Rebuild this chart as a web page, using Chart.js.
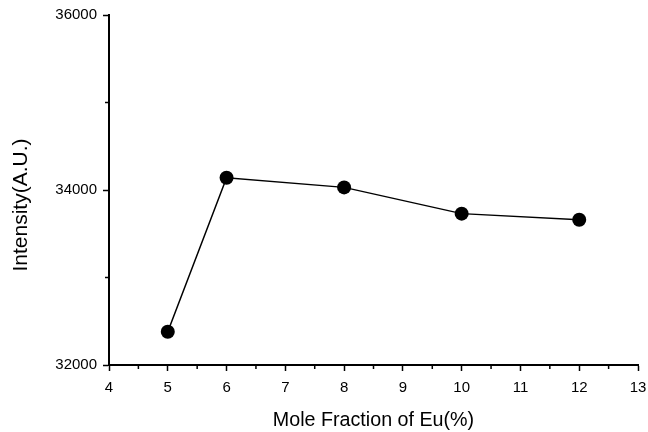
<!DOCTYPE html>
<html>
<head>
<meta charset="utf-8">
<script src="https://cdn.jsdelivr.net/npm/chart.js@4"></script>
<style>
  html, body { margin: 0; padding: 0; background: #fff; }
  #wrap { width: 648px; height: 432px; }
</style>
</head>
<body>
<div id="wrap"><canvas id="chart"></canvas></div>
<script>
// data
const moleFraction = [5, 6, 8, 10, 12];
const intensity = [32380, 34140, 34030, 33730, 33660];
const yLabelled = [32000, 34000, 36000];
const xLabelled = [4, 5, 6, 7, 8, 9, 10, 11, 12, 13];
const yTitle = 'Intensity(A.U.)';

const FONT = "'Liberation Sans', Arial, sans-serif";

// short minor ticks + the y title (sits a bit below the axis middle in the original)
const extras = {
  id: 'extras',
  afterDraw(chart) {
    const ctx = chart.ctx;
    const x = chart.scales.x, y = chart.scales.y;
    ctx.save();
    ctx.strokeStyle = '#000';
    ctx.lineWidth = 1.5;
    ctx.beginPath();
    y.ticks.forEach(t => {
      if (yLabelled.includes(t.value)) return;
      const py = y.getPixelForValue(t.value);
      ctx.moveTo(x.left - 4, py);
      ctx.lineTo(x.left, py);
    });
    x.ticks.forEach(t => {
      if (xLabelled.includes(t.value)) return;
      const px = x.getPixelForValue(t.value);
      ctx.moveTo(px, y.bottom);
      ctx.lineTo(px, y.bottom + 4);
    });
    ctx.stroke();

    const area = chart.chartArea;
    ctx.translate(21, (area.top + area.bottom) / 2 + 15);
    ctx.rotate(-Math.PI / 2);
    ctx.fillStyle = '#000';
    ctx.font = '21px ' + FONT;
    ctx.textAlign = 'center';
    ctx.textBaseline = 'middle';
    ctx.fillText(yTitle, 0, 0);
    ctx.restore();
  }
};

new Chart(document.getElementById('chart'), {
  type: 'line',
  data: {
    datasets: [{
      data: moleFraction.map((m, i) => ({ x: m, y: intensity[i] })),
      borderColor: '#000',
      backgroundColor: '#000',
      borderWidth: 1.5,
      pointRadius: 7,
      pointBorderWidth: 0,
      pointBackgroundColor: '#000',
      tension: 0
    }]
  },
  options: {
    responsive: true,
    maintainAspectRatio: false,
    animation: false,
    layout: { padding: { top: 15, right: 10, left: 0, bottom: 0 } },
    plugins: { legend: { display: false }, tooltip: { enabled: false } },
    scales: {
      x: {
        type: 'linear',
        min: 4, max: 13,
        afterFit(s) { s.height = 67; s.paddingLeft = 0; s.paddingRight = 0; },
        border: { color: '#000', width: 2 },
        grid: {
          drawOnChartArea: false,
          tickLength: 6,
          tickWidth: 1.5,
          tickColor: c => xLabelled.includes(c.tick && c.tick.value) ? '#000' : 'rgba(0,0,0,0)'
        },
        ticks: {
          stepSize: 0.5,
          color: '#000',
          padding: 8,
          maxRotation: 0,
          autoSkip: false,
          font: { family: FONT, size: 15 },
          callback: v => Number.isInteger(v) ? String(v) : ''
        },
        title: {
          display: true,
          text: 'Mole Fraction of Eu(%)',
          color: '#000',
          font: { family: FONT, size: 19.7 },
          padding: { top: 4, bottom: 0 }
        }
      },
      y: {
        type: 'linear',
        min: 32000, max: 36000,
        afterFit(s) { s.width = 109; s.paddingTop = 0; s.paddingBottom = 0; },
        border: { color: '#000', width: 2 },
        grid: {
          drawOnChartArea: false,
          tickLength: 6,
          tickWidth: 1.5,
          tickColor: c => yLabelled.includes(c.tick && c.tick.value) ? '#000' : 'rgba(0,0,0,0)'
        },
        ticks: {
          stepSize: 1000,
          color: '#000',
          padding: 6,
          autoSkip: false,
          font: { family: FONT, size: 15 },
          callback: v => yLabelled.includes(v) ? String(v) : ''
        }
      }
    }
  },
  plugins: [extras]
});
</script>
</body>
</html>
